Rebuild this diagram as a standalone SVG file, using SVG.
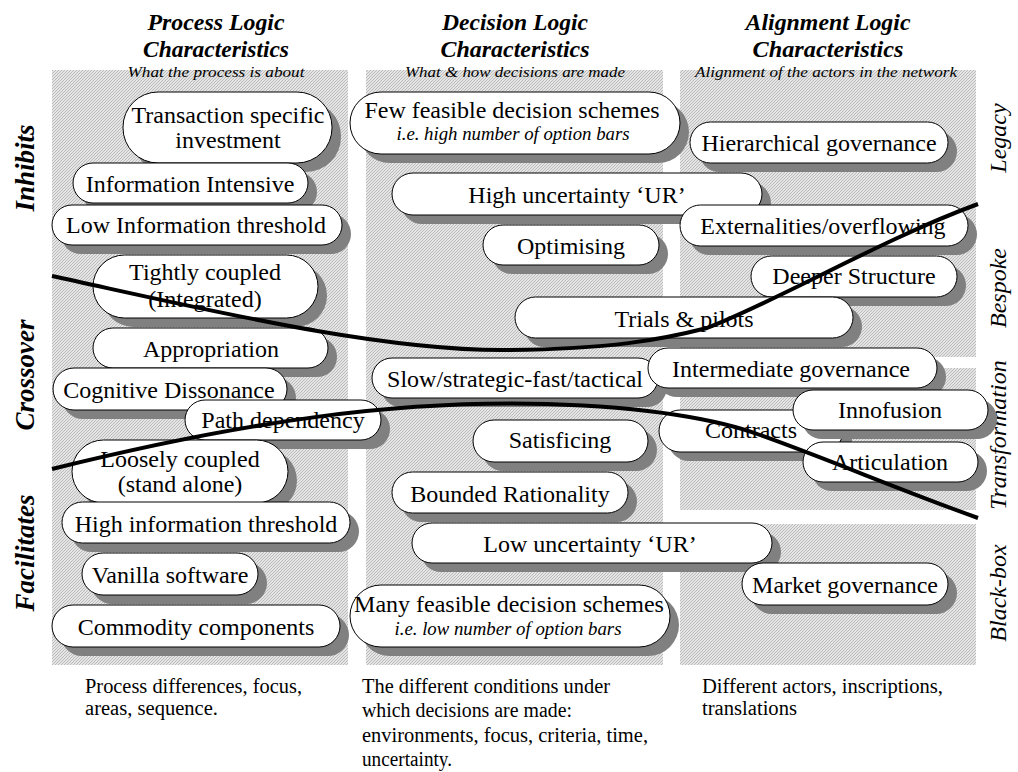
<svg xmlns="http://www.w3.org/2000/svg" width="1018" height="772" viewBox="0 0 1018 772">
<defs>
<pattern id="hatch" width="3" height="3" patternUnits="userSpaceOnUse">
<rect width="3" height="3" fill="#e4e4e4"/>
<rect x="0" y="2" width="1" height="1" fill="#bcbcbc"/>
<rect x="1" y="1" width="1" height="1" fill="#bcbcbc"/>
<rect x="2" y="0" width="1" height="1" fill="#bcbcbc"/>
</pattern>
</defs>
<style>
.panel{fill:url(#hatch)}
.sh{fill:#808080}
.pill{fill:#fff;stroke:#000;stroke-width:1}
text{font-family:"Liberation Serif","Times New Roman",serif;fill:#000}
.t{font-size:24px;text-anchor:middle}
.s{font-size:18px;font-style:italic;text-anchor:middle}
.hd{font-size:23px;font-weight:bold;font-style:italic;text-anchor:middle}
.st{font-size:15px;font-style:italic;text-anchor:middle}
.ll{font-size:27px;font-weight:bold;font-style:italic;text-anchor:middle}
.rl{font-size:24px;font-style:italic;text-anchor:middle}
.bt{font-size:20px}
.curve{fill:none;stroke:#000;stroke-width:4}
</style>
<rect width="1018" height="772" fill="#fff"/>
<g id="panels">
<rect class="panel" x="52" y="70" width="296" height="595"/>
<rect class="panel" x="366" y="70" width="297" height="595"/>
<rect class="panel" x="680" y="70" width="296" height="287"/>
<rect class="panel" x="680" y="368" width="296" height="142"/>
<rect class="panel" x="680" y="524" width="296" height="141"/>
</g>
<g id="headers">
<text class="hd" x="216" y="30" textLength="137" lengthAdjust="spacingAndGlyphs">Process Logic</text>
<text class="hd" x="216" y="57" textLength="146" lengthAdjust="spacingAndGlyphs">Characteristics</text>
<text class="st" x="216" y="77" textLength="177" lengthAdjust="spacingAndGlyphs">What the process is about</text>
<text class="hd" x="515" y="30" textLength="146" lengthAdjust="spacingAndGlyphs">Decision Logic</text>
<text class="hd" x="515" y="57" textLength="149" lengthAdjust="spacingAndGlyphs">Characteristics</text>
<text class="st" x="515" y="77" textLength="220" lengthAdjust="spacingAndGlyphs">What &amp; how decisions are made</text>
<text class="hd" x="828" y="30" textLength="165" lengthAdjust="spacingAndGlyphs">Alignment Logic</text>
<text class="hd" x="828" y="57" textLength="151" lengthAdjust="spacingAndGlyphs">Characteristics</text>
<text class="st" x="826" y="77" textLength="262" lengthAdjust="spacingAndGlyphs">Alignment of the actors in the network</text>
</g>
<g id="side-labels">
<text class="ll" transform="translate(34,168) rotate(-90)">Inhibits</text>
<text class="ll" transform="translate(34,375) rotate(-90)">Crossover</text>
<text class="ll" transform="translate(34,553) rotate(-90)">Facilitates</text>
<text class="rl" transform="translate(1006,138) rotate(-90)">Legacy</text>
<text class="rl" transform="translate(1006,288) rotate(-90)">Bespoke</text>
<text class="rl" transform="translate(1006,435) rotate(-90)">Transformation</text>
<text class="rl" transform="translate(1006,593) rotate(-90)">Black-box</text>
</g>
<g id="n-transaction"><rect class="sh" x="132" y="101" width="209" height="71" rx="35"/><rect class="pill" x="123" y="92" width="209" height="71" rx="35"/><text class="t" x="228" y="123">Transaction specific</text><text class="t" x="228" y="148">investment</text></g>
<g id="n-few"><rect class="sh" x="359" y="101" width="330" height="62" rx="31"/><rect class="pill" x="350" y="92" width="330" height="62" rx="31"/><text class="t" x="512" y="118">Few feasible decision schemes</text><text class="s" x="513" y="140" textLength="233" lengthAdjust="spacingAndGlyphs">i.e. high number of option bars</text></g>
<g id="n-hier"><rect class="sh" x="699" y="131" width="258" height="41" rx="20.5"/><rect class="pill" x="690" y="122" width="258" height="41" rx="20.5"/><text class="t" x="819" y="151">Hierarchical governance</text></g>
<g id="n-infoint"><rect class="sh" x="82" y="172" width="235" height="40" rx="20"/><rect class="pill" x="73" y="163" width="235" height="40" rx="20"/><text class="t" x="190" y="192">Information Intensive</text></g>
<g id="n-highunc"><rect class="sh" x="401" y="182" width="370" height="42" rx="21"/><rect class="pill" x="392" y="173" width="370" height="42" rx="21"/><text class="t" x="577" y="203">High uncertainty ‘UR’</text></g>
<g id="n-lowinfo"><rect class="sh" x="61" y="214" width="290" height="40" rx="20"/><rect class="pill" x="52" y="205" width="290" height="40" rx="20"/><text class="t" x="196" y="233">Low Information threshold</text></g>
<g id="n-extern"><rect class="sh" x="689" y="214" width="288" height="41" rx="20.5"/><rect class="pill" x="680" y="205" width="288" height="41" rx="20.5"/><text class="t" x="823" y="234">Externalities/overflowing</text></g>
<g id="n-optim"><rect class="sh" x="492" y="234" width="176" height="40" rx="20"/><rect class="pill" x="483" y="225" width="176" height="40" rx="20"/><text class="t" x="571" y="254">Optimising</text></g>
<g id="n-tight"><rect class="sh" x="102" y="264" width="225" height="63" rx="31.5"/><rect class="pill" x="93" y="255" width="225" height="63" rx="31.5"/><text class="t" x="205" y="280">Tightly coupled</text><text class="t" x="205" y="307">(Integrated)</text></g>
<g id="n-deeper"><rect class="sh" x="760" y="265" width="206" height="41" rx="20.5"/><rect class="pill" x="751" y="256" width="206" height="41" rx="20.5"/><text class="t" x="854" y="284">Deeper Structure</text></g>
<g id="n-trials"><rect class="sh" x="524" y="306" width="338" height="41" rx="20.5"/><rect class="pill" x="515" y="297" width="338" height="41" rx="20.5"/><text class="t" x="684" y="327">Trials &amp; pilots</text></g>
<g id="n-approp"><rect class="sh" x="102" y="337" width="235" height="40" rx="20"/><rect class="pill" x="93" y="328" width="235" height="40" rx="20"/><text class="t" x="211" y="357">Appropriation</text></g>
<g id="n-slow"><rect class="sh" x="381" y="367" width="286" height="40" rx="20"/><rect class="pill" x="372" y="358" width="286" height="40" rx="20"/><text class="t" x="515" y="387">Slow/strategic-fast/tactical</text></g>
<g id="n-interm"><rect class="sh" x="657" y="357" width="289" height="40" rx="20"/><rect class="pill" x="648" y="348" width="289" height="40" rx="20"/><text class="t" x="791" y="377">Intermediate governance</text></g>
<g id="n-cogn"><rect class="sh" x="62" y="377" width="234" height="42" rx="21"/><rect class="pill" x="53" y="368" width="234" height="42" rx="21"/><text class="t" x="169" y="398">Cognitive Dissonance</text></g>
<g id="n-contracts"><rect class="sh" x="668" y="419" width="184" height="42" rx="21"/><rect class="pill" x="659" y="410" width="184" height="42" rx="21"/><text class="t" x="751" y="438">Contracts</text></g>
<g id="n-innof"><rect class="sh" x="802" y="399" width="195" height="40" rx="20"/><rect class="pill" x="793" y="390" width="195" height="40" rx="20"/><text class="t" x="890" y="418">Innofusion</text></g>
<g id="n-path"><rect class="sh" x="194" y="409" width="196" height="40" rx="20"/><rect class="pill" x="185" y="400" width="196" height="40" rx="20"/><text class="t" x="283" y="428">Path dependency</text></g>
<g id="n-satis"><rect class="sh" x="482" y="429" width="175" height="42" rx="21"/><rect class="pill" x="473" y="420" width="175" height="42" rx="21"/><text class="t" x="560" y="448">Satisficing</text></g>
<g id="n-loose"><rect class="sh" x="81" y="449" width="216" height="63" rx="31.5"/><rect class="pill" x="72" y="440" width="216" height="63" rx="31.5"/><text class="t" x="180" y="467">Loosely coupled</text><text class="t" x="180" y="492">(stand alone)</text></g>
<g id="n-artic"><rect class="sh" x="812" y="451" width="175" height="40" rx="20"/><rect class="pill" x="803" y="442" width="175" height="40" rx="20"/><text class="t" x="890" y="470">Articulation</text></g>
<g id="n-bounded"><rect class="sh" x="401" y="481" width="236" height="41" rx="20.5"/><rect class="pill" x="392" y="472" width="236" height="41" rx="20.5"/><text class="t" x="510" y="502">Bounded Rationality</text></g>
<g id="n-highinfo"><rect class="sh" x="71" y="511" width="288" height="41" rx="20.5"/><rect class="pill" x="62" y="502" width="288" height="41" rx="20.5"/><text class="t" x="206" y="532">High information threshold</text></g>
<g id="n-lowunc"><rect class="sh" x="421" y="532" width="360" height="40" rx="20"/><rect class="pill" x="412" y="523" width="360" height="40" rx="20"/><text class="t" x="590" y="552">Low uncertainty ‘UR’</text></g>
<g id="n-vanilla"><rect class="sh" x="91" y="562" width="176" height="42" rx="21"/><rect class="pill" x="82" y="553" width="176" height="42" rx="21"/><text class="t" x="170" y="583">Vanilla software</text></g>
<g id="n-market"><rect class="sh" x="751" y="572" width="206" height="42" rx="21"/><rect class="pill" x="742" y="563" width="206" height="42" rx="21"/><text class="t" x="845" y="593">Market governance</text></g>
<g id="n-many"><rect class="sh" x="359" y="594" width="320" height="62" rx="31"/><rect class="pill" x="350" y="585" width="320" height="62" rx="31"/><text class="t" x="509" y="612">Many feasible decision schemes</text><text class="s" x="508" y="635" textLength="227" lengthAdjust="spacingAndGlyphs">i.e. low number of option bars</text></g>
<g id="n-commodity"><rect class="sh" x="61" y="614" width="288" height="42" rx="21"/><rect class="pill" x="52" y="605" width="288" height="42" rx="21"/><text class="t" x="196" y="635">Commodity components</text></g>
<g id="connectors">
<path class="curve" d="M52,276 C200,308 380,352 510,350 C610,349 660,340 707,328 C780,300 880,240 978,204"/>
<path class="curve" d="M52,469 C250,420 400,400 547,404 C650,407 720,420 760,435 C830,460 900,490 978,518"/>
</g>
<g id="footers">
<text class="bt" x="85" y="693" textLength="217" lengthAdjust="spacingAndGlyphs">Process differences, focus,</text>
<text class="bt" x="85" y="715" textLength="133" lengthAdjust="spacingAndGlyphs">areas, sequence.</text>
<text class="bt" x="362" y="693" textLength="248" lengthAdjust="spacingAndGlyphs">The different conditions under</text>
<text class="bt" x="362" y="717" textLength="210" lengthAdjust="spacingAndGlyphs">which decisions are made:</text>
<text class="bt" x="362" y="742" textLength="286" lengthAdjust="spacingAndGlyphs">environments, focus, criteria, time,</text>
<text class="bt" x="362" y="766" textLength="90" lengthAdjust="spacingAndGlyphs">uncertainty.</text>
<text class="bt" x="702" y="693" textLength="241" lengthAdjust="spacingAndGlyphs">Different actors, inscriptions,</text>
<text class="bt" x="702" y="715" textLength="95" lengthAdjust="spacingAndGlyphs">translations</text>
</g>
</svg>
